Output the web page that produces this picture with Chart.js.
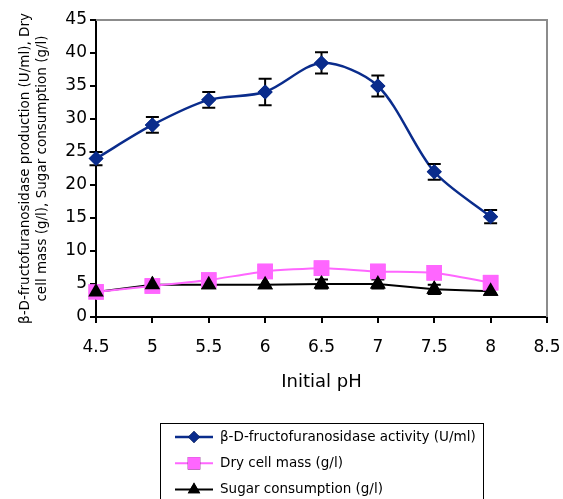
<!DOCTYPE html>
<html>
<head>
<meta charset="utf-8">
<script src="https://cdn.jsdelivr.net/npm/chart.js@4.4.1/dist/chart.umd.min.js"></script>
<style>
  html, body { margin: 0; padding: 0; background: #fff; }
  #wrap { width: 563px; height: 499px; }
</style>
</head>
<body>
<div id="wrap"><canvas id="myChart"></canvas></div>
<script>
// pH values
const phValues = [4.5, 5, 5.5, 6, 6.5, 7, 7.5, 8];

// series values
const enzymeActivity = [24, 29.1, 32.9, 34.1, 38.5, 35, 22, 15.2];
const enzymeError = [1, 1.2, 1.2, 2, 1.6, 1.6, 1.2, 1];
const dryCellMass = [3.8, 4.7, 5.6, 6.9, 7.4, 6.9, 6.7, 5.2];
const dryCellError = [0, 0, 0, 0, 0, 0, 0, 0];
const sugarConsumption = [3.8, 4.9, 4.9, 4.9, 5.0, 5.0, 4.2, 3.9];
const sugarError = [0, 0, 0, 0, 0.7, 0.7, 0.7, 0.5];

const labelEnzyme = 'β-D-fructofuranosidase activity (U/ml)';
const labelCellMass = 'Dry cell mass (g/l)';
const labelSugar = 'Sugar consumption (g/l)';

const FONT = '"DejaVu Sans", sans-serif';

function toPoints(values) {
    return values.map((v, i) => ({ x: phValues[i], y: v }));
}

// Error bars drawn from the scales, markers redrawn on top
const errorBarPlugin = {
    id: 'errorBars',
    afterDatasetsDraw(chart) {
        const ctx = chart.ctx;
        const xScale = chart.scales.x;
        const yScale = chart.scales.y;
        ctx.save();
        ctx.strokeStyle = '#000';
        ctx.lineWidth = 2;
        chart.data.datasets.forEach(ds => {
            if (!ds.errors) return;
            ds.data.forEach((p, i) => {
                const err = ds.errors[i];
                if (!err) return;
                const x = xScale.getPixelForValue(p.x);
                const yTop = yScale.getPixelForValue(p.y + err);
                const yBot = yScale.getPixelForValue(p.y - err);
                ctx.beginPath();
                ctx.moveTo(x, yTop); ctx.lineTo(x, yBot);
                ctx.moveTo(x - 6.5, yTop); ctx.lineTo(x + 6.5, yTop);
                ctx.moveTo(x - 6.5, yBot); ctx.lineTo(x + 6.5, yBot);
                ctx.stroke();
            });
        });
        ctx.restore();
        chart.data.datasets.forEach((ds, di) => {
            const meta = chart.getDatasetMeta(di);
            meta.data.forEach(pt => pt.draw(ctx, chart.chartArea));
        });
    }
};

// gray frame on top and right, plus the boxed legend under the chart
const frameAndLegendPlugin = {
    id: 'frameAndLegend',
    beforeDatasetsDraw(chart) {
        const { ctx, chartArea } = chart;
        ctx.save();
        ctx.strokeStyle = '#8c8c8c';
        ctx.lineWidth = 2;
        ctx.beginPath();
        ctx.moveTo(chartArea.left, chartArea.top);
        ctx.lineTo(chartArea.right, chartArea.top);
        ctx.lineTo(chartArea.right, chartArea.bottom);
        ctx.stroke();
        ctx.restore();
    },
    afterDraw(chart) {
        const ctx = chart.ctx;
        ctx.save();
        ctx.strokeStyle = '#000';
        ctx.lineWidth = 1;
        ctx.strokeRect(160.5, 423.5, 323, 90);
        ctx.font = '13.5px ' + FONT;
        ctx.textBaseline = 'middle';
        chart.data.datasets.forEach((ds, i) => {
            const y = 437 + i * 26.3;
            ctx.strokeStyle = ds.borderColor;
            ctx.lineWidth = ds.borderWidth;
            ctx.beginPath();
            ctx.moveTo(175, y); ctx.lineTo(213, y);
            ctx.stroke();
            // legend markers a bit smaller than the plotted ones
            Chart.helpers.drawPoint(ctx, {
                pointStyle: ds.pointStyle,
                radius: ds.pointRadius * 0.8,
                borderWidth: 0
            }, 194, y);
            ctx.fillStyle = ds.pointBackgroundColor;
            ctx.fill();
            ctx.fillStyle = '#000';
            ctx.fillText(ds.label, 220, y);
        });
        ctx.restore();
    }
};

function renderChart() {
    const ctx = document.getElementById('myChart').getContext('2d');

    const config = {
        type: 'line',
        data: {
            datasets: [
                {
                    label: labelEnzyme,
                    data: toPoints(enzymeActivity),
                    errors: enzymeError,
                    borderColor: '#0a2c8c',
                    borderWidth: 2.5,
                    pointStyle: 'rectRot',
                    pointRadius: 7.5,
                    pointBackgroundColor: '#0a2c8c',
                    pointBorderWidth: 0,
                    tension: 0.3
                },
                {
                    label: labelCellMass,
                    data: toPoints(dryCellMass),
                    errors: dryCellError,
                    borderColor: '#ff66ff',
                    borderWidth: 2,
                    pointStyle: 'rect',
                    pointRadius: 11,
                    pointBackgroundColor: '#ff66ff',
                    pointBorderWidth: 0,
                    tension: 0.2
                },
                {
                    label: labelSugar,
                    data: toPoints(sugarConsumption),
                    errors: sugarError,
                    borderColor: '#000000',
                    borderWidth: 2,
                    pointStyle: 'triangle',
                    pointRadius: 9,
                    pointBackgroundColor: '#000000',
                    pointBorderWidth: 0,
                    tension: 0
                }
            ]
        },
        options: {
            responsive: true,
            maintainAspectRatio: false,
            animation: false,
            layout: {
                padding: { left: 0, top: 20, right: 16, bottom: 0 }
            },
            plugins: {
                legend: { display: false },
                tooltip: { enabled: false }
            },
            scales: {
                x: {
                    type: 'linear',
                    min: 4.5,
                    max: 8.5,
                    afterFit: scale => {
                        scale.height = 182;
                        scale.paddingLeft = 0;
                        scale.paddingRight = 0;
                    },
                    ticks: {
                        stepSize: 0.5,
                        color: '#000',
                        padding: 14,
                        font: { family: FONT, size: 17 },
                        callback: value => String(value)
                    },
                    grid: {
                        display: true,
                        drawOnChartArea: false,
                        drawTicks: true,
                        tickLength: 6,
                        color: '#000',
                        lineWidth: 2
                    },
                    border: { color: '#000', width: 2 },
                    title: {
                        display: true,
                        text: 'Initial pH',
                        color: '#000',
                        font: { family: FONT, size: 18 },
                        padding: { top: 0, bottom: 106 }
                    }
                },
                y: {
                    min: 0,
                    max: 45,
                    afterFit: scale => {
                        scale.width = 96;
                        scale.paddingTop = 0;
                        scale.paddingBottom = 0;
                    },
                    ticks: {
                        stepSize: 5,
                        color: '#000',
                        padding: 3,
                        font: { family: FONT, size: 17 }
                    },
                    grid: {
                        display: true,
                        drawOnChartArea: false,
                        drawTicks: true,
                        tickLength: 6,
                        color: '#000',
                        lineWidth: 2
                    },
                    border: { color: '#000', width: 2 },
                    title: {
                        display: true,
                        text: ['β-D-fructofuranosidase production (U/ml), Dry',
                               'cell mass (g/l), Sugar consumption (g/l)'],
                        color: '#000',
                        font: { family: FONT, size: 13.5, lineHeight: 1.25 },
                        padding: { top: 17, bottom: 0 }
                    }
                }
            }
        },
        plugins: [frameAndLegendPlugin, errorBarPlugin]
    };

    new Chart(ctx, config);
}

document.addEventListener('DOMContentLoaded', renderChart);
</script>
</body>
</html>
